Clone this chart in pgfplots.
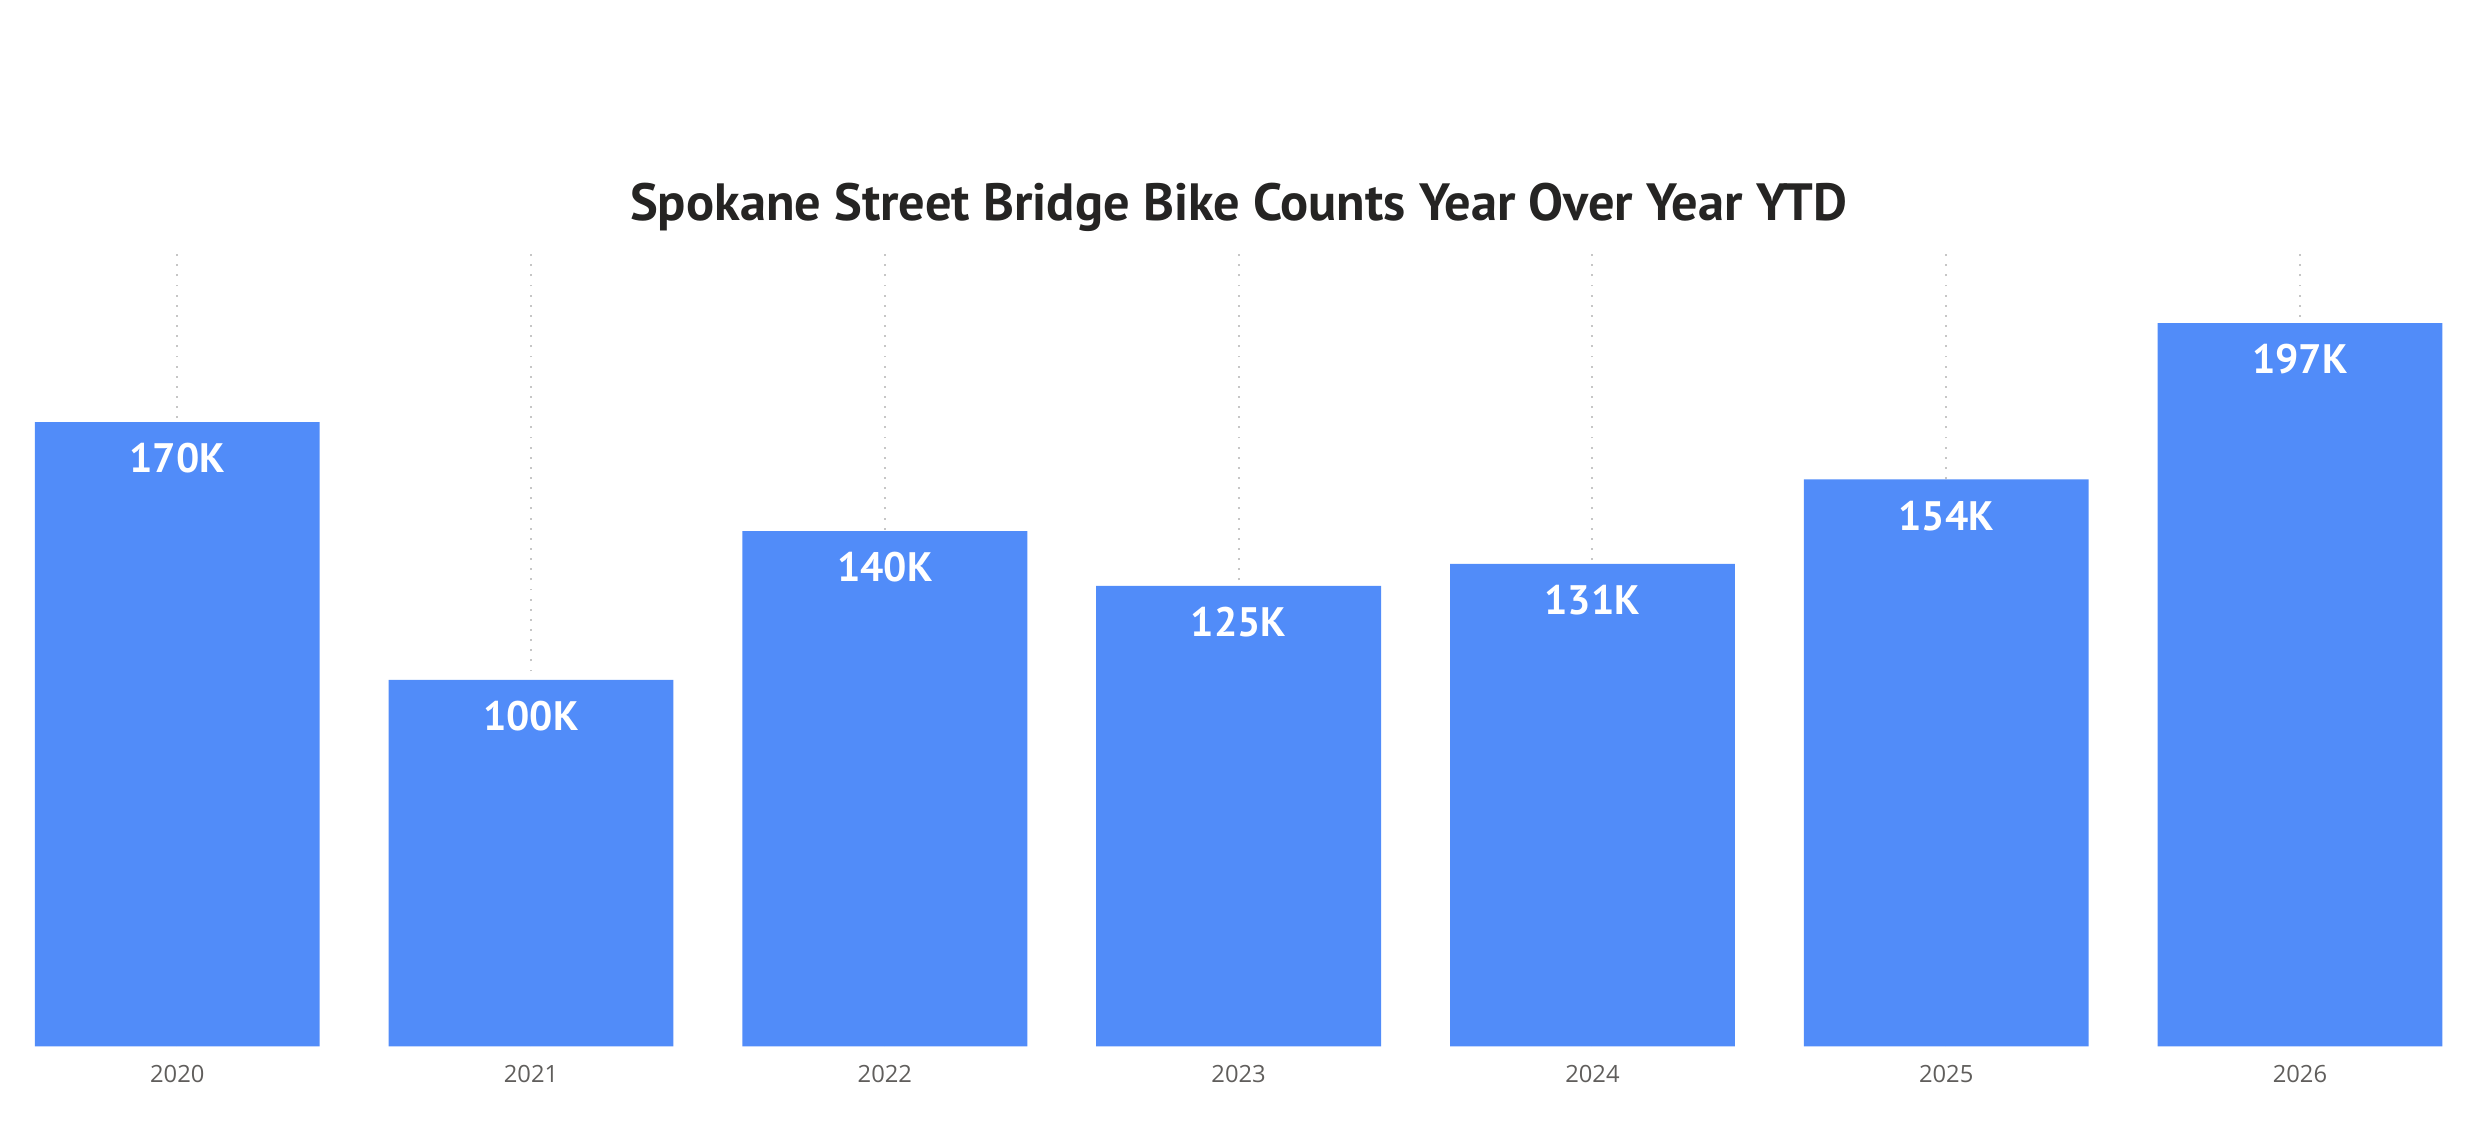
\documentclass[border=0pt]{standalone}
\usepackage{fontspec}
\setmainfont{PT Sans}
\newfontfamily\tickfont{Open Sans}
\usepackage{pgfplots}
\pgfplotsset{compat=1.18}
\definecolor{barblue}{HTML}{518CF9}
\definecolor{titlegray}{HTML}{252423}
\definecolor{tickgray}{HTML}{605E5C}
\begin{document}
\begin{tikzpicture}
\path[use as bounding box] (-0.125pt,-30.5pt) rectangle (783.875pt,330.5pt);
\begin{axis}[
  at={(0pt,0pt)}, anchor=south west,
  scale only axis, width=782.25pt, height=250.5pt,
  xmin=-0.5, xmax=6.5, ymin=0, ymax=216,
  axis line style={draw=none},
  ytick=\empty,
  xtick=data,
  xticklabels={2020,2021,2022,2023,2024,2025,2026},
  major tick length=0pt,
  xticklabel style={anchor=base, yshift=-11.5pt, font=\tickfont\fontsize{7.5}{9}\selectfont, text=tickgray},
  xmajorgrids,
  major grid style={draw=gray!45, line width=0.6pt, dash pattern=on 0.6pt off 2.6pt},
  title={Spokane Street Bridge Bike Counts Year Over Year YTD},
  title style={at={(0.5,1)}, anchor=base, yshift=4.4pt, font=\bfseries\fontsize{16.55}{19}\selectfont, text=titlegray},
  clip=false,
  ybar, bar width=0.805,
  nodes near coords={\pgfmathprintnumber[fixed,precision=0,assume math mode=true]{\pgfplotspointmeta}K},
  nodes near coords align={anchor=base},
  every node near coord/.append style={yshift=-16pt, text=white, font=\bfseries\fontsize{13}{15}\selectfont},
]
\addplot[fill=barblue, draw=none] coordinates {(0,170.0) (1,99.8) (2,140.3) (3,125.4) (4,131.4) (5,154.4) (6,197.0)};
\end{axis}
\end{tikzpicture}
\end{document}
